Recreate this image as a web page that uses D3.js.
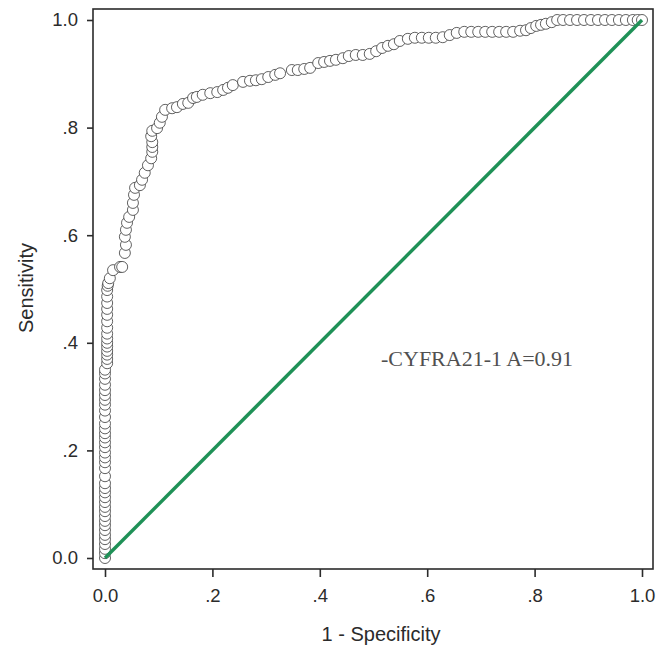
<!DOCTYPE html>
<html lang="en">
  <head>
    <meta charset="utf-8">
    <title>ROC - CYFRA21-1</title>
    <script src="https://d3js.org/d3.v7.min.js"></script>
    <style type="text/css">
        body {
          margin: 0;
          background: #fff;
        }
        .axis-label {
          font: 18.5px "Liberation Sans", Arial, sans-serif;
          fill: #2b2b2b;
        }
        .axis-title {
          font: 20px "Liberation Sans", Arial, sans-serif;
          fill: #2b2b2b;
        }
        .note {
          font: 22px "Liberation Serif", "DejaVu Serif", serif;
          fill: #505050;
        }
    </style>
  </head>
  <body>
    <div id="chart"></div>
    <script>

        // ROC points (1 - specificity, sensitivity)
        var fpr = [
          0, 0, 0, 0, 0, 0, 0, 0, 0, 0, 0, 0, 0, 0, 0, 0, 0, 0, 0, 0,
          0, 0, 0, 0, 0, 0, 0, 0, 0, 0, 0, 0, 0, 0, 0, 0, 0, 0,
          0.004, 0.004, 0.004, 0.004, 0.004, 0.004, 0.004, 0.004, 0.004, 0.004,
          0.004, 0.004, 0.004, 0.004, 0.004, 0.005,
          0.006, 0.009, 0.015, 0.028, 0.032, 0.037, 0.039, 0.037, 0.039, 0.041,
          0.045, 0.052, 0.052, 0.054, 0.056, 0.065, 0.069, 0.074, 0.080, 0.086,
          0.088, 0.088, 0.088, 0.086, 0.088, 0.097, 0.102, 0.106, 0.112, 0.125,
          0.134, 0.145, 0.155, 0.164, 0.171, 0.182, 0.196, 0.209, 0.220, 0.229,
          0.238, 0.257, 0.270, 0.281, 0.292, 0.304, 0.317, 0.326, 0.348, 0.359,
          0.371, 0.382, 0.397, 0.408, 0.419, 0.430, 0.443, 0.454, 0.467, 0.480,
          0.493, 0.505, 0.516, 0.527, 0.538, 0.549, 0.564, 0.577, 0.590, 0.603,
          0.616, 0.629, 0.642, 0.655, 0.669, 0.682, 0.695, 0.708, 0.721, 0.734,
          0.747, 0.760, 0.773, 0.784, 0.793, 0.803, 0.812, 0.821, 0.832, 0.842,
          0.853, 0.866, 0.879, 0.892, 0.905, 0.918, 0.931, 0.944, 0.957, 0.970,
          0.983, 0.992, 1.000
        ];
        var tpr = [
          0.000, 0.009, 0.017, 0.026, 0.035, 0.043, 0.052, 0.061, 0.069, 0.078,
          0.087, 0.095, 0.104, 0.113, 0.122, 0.130, 0.139, 0.152, 0.167, 0.178,
          0.187, 0.196, 0.206, 0.215, 0.224, 0.232, 0.241, 0.250, 0.262, 0.274,
          0.285, 0.294, 0.303, 0.312, 0.322, 0.333, 0.343, 0.350,
          0.362, 0.370, 0.378, 0.385, 0.393, 0.400, 0.408, 0.417, 0.428, 0.440,
          0.452, 0.463, 0.474, 0.486, 0.498, 0.506,
          0.511, 0.520, 0.535, 0.541, 0.541, 0.567, 0.582, 0.597, 0.610, 0.623,
          0.634, 0.647, 0.660, 0.675, 0.688, 0.693, 0.703, 0.716, 0.730, 0.743,
          0.755, 0.764, 0.773, 0.784, 0.794, 0.799, 0.809, 0.820, 0.833, 0.836,
          0.838, 0.844, 0.846, 0.855, 0.857, 0.861, 0.864, 0.866, 0.870, 0.874,
          0.879, 0.885, 0.887, 0.888, 0.890, 0.894, 0.898, 0.901, 0.907, 0.907,
          0.909, 0.911, 0.920, 0.922, 0.924, 0.926, 0.929, 0.933, 0.935, 0.935,
          0.937, 0.942, 0.948, 0.952, 0.955, 0.961, 0.965, 0.967, 0.967, 0.967,
          0.967, 0.968, 0.972, 0.976, 0.978, 0.978, 0.978, 0.978, 0.978, 0.978,
          0.978, 0.978, 0.980, 0.981, 0.985, 0.989, 0.991, 0.993, 0.996, 1.000,
          1.000, 1.000, 1.000, 1.000, 1.000, 1.000, 1.000, 1.000, 1.000, 1.000,
          1.000, 1.000, 1.000
        ];

        var ticks = [0, 0.2, 0.4, 0.6, 0.8, 1.0];
        var tickLabels = ["0.0", ".2", ".4", ".6", ".8", "1.0"];
        var reference = [0, 1];   // chance diagonal
        var note = "-CYFRA21-1 A=0.91";

        var width = 667, height = 650;
        var frame = {left: 93, right: 653, top: 9, bottom: 569};

        var x = d3.scaleLinear().domain([0, 1]).range([105, 642]);
        var y = d3.scaleLinear().domain([0, 1]).range([558, 20]);

        var svg = d3.select("#chart").append("svg")
            .attr("width", width)
            .attr("height", height);

        // points
        var pts = fpr.map(function(d, i) { return [d, tpr[i]]; });
        svg.append("g").selectAll("circle")
          .data(pts)
          .enter().append("circle")
            .attr("cx", function(d) { return x(d[0]); })
            .attr("cy", function(d) { return y(d[1]); })
            .attr("r", 5.5)
            .style("fill", "#fff")
            .style("stroke", "#3a3a3a")
            .style("stroke-width", 0.8);

        // diagonal
        svg.append("line")
            .attr("x1", x(reference[0])).attr("y1", y(reference[0]))
            .attr("x2", x(reference[1])).attr("y2", y(reference[1]))
            .style("stroke", "#1f9157")
            .style("stroke-width", 3.4);

        // frame
        svg.append("rect")
            .attr("x", frame.left).attr("y", frame.top)
            .attr("width", frame.right - frame.left)
            .attr("height", frame.bottom - frame.top)
            .style("fill", "none")
            .style("stroke", "#2b2b2b")
            .style("stroke-width", 1.6);

        var xAxis = svg.append("g")
            .attr("transform", "translate(0," + frame.bottom + ")")
            .call(d3.axisBottom(x).tickValues(ticks).tickSize(8).tickPadding(12)
                  .tickFormat(function(d, i) { return tickLabels[i]; }));
        var yAxis = svg.append("g")
            .attr("transform", "translate(" + frame.left + ",0)")
            .call(d3.axisLeft(y).tickValues(ticks).tickSize(6).tickPadding(9)
                  .tickFormat(function(d, i) { return tickLabels[i]; }));

        [xAxis, yAxis].forEach(function(a) {
          a.select(".domain").remove();
          a.selectAll(".tick line").style("stroke", "#2b2b2b").style("stroke-width", 1.6);
          a.selectAll(".tick text").attr("class", "axis-label").attr("fill", null);
        });

        svg.append("text")
            .attr("class", "axis-title")
            .attr("x", 381).attr("y", 641)
            .attr("text-anchor", "middle")
            .text("1 - Specificity");

        svg.append("text")
            .attr("class", "axis-title")
            .attr("transform", "translate(33,288) rotate(-90)")
            .attr("text-anchor", "middle")
            .text("Sensitivity");

        svg.append("text")
            .attr("class", "note")
            .attr("x", 381).attr("y", 366)
            .text(note);

    </script>
  </body>
</html>
